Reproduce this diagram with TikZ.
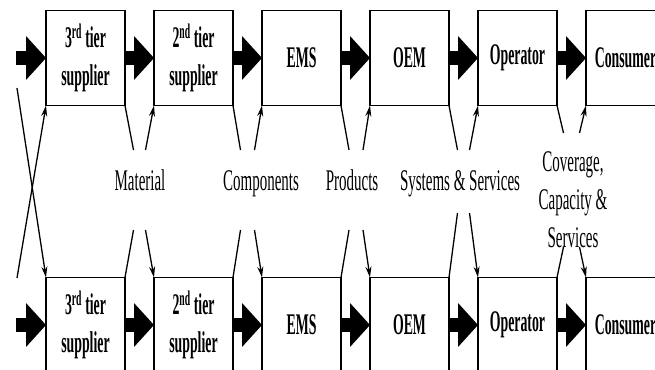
\documentclass[tikz,border=0pt]{standalone}
\usepackage{graphicx}
\usepackage{fontspec}
\setmainfont{Liberation Serif}
\usetikzlibrary{positioning}
\usetikzlibrary{arrows.meta}

\newcommand{\cnd}[1]{\scalebox{0.5}[1]{#1}}
\newcommand{\cbx}[1]{\scalebox{0.46}[1]{#1}}

\begin{document}
\begin{tikzpicture}
          [x=1pt, y=-1pt, node distance=29pt,
           box/.style={draw, line width=1.6pt, minimum width=79pt, minimum height=95pt,
                       inner sep=0pt, outer sep=0pt, align=center,
                       font=\fontsize{30}{38}\selectfont\bfseries},
           lbl/.style={align=center, inner sep=0pt, font=\fontsize{30}{38}\selectfont},
           edge/.style={line width=1.3pt},
           flow/.style={line width=1.3pt, -{Stealth[length=11pt,width=6pt]}},
           bigarr/.style={line width=14pt, -{Triangle[length=20pt,width=44pt,line width=0pt]}}]
          \useasboundingbox (0,0) rectangle (655,369);

          % upper chain
          \node (s3) [box] at (85.5,58) {\cbx{3\textsuperscript{rd} tier}\\\cbx{supplier}};
          \node (s2) [box, right = of s3] {\cbx{2\textsuperscript{nd} tier}\\\cbx{supplier}};
          \node (ems) [box, right = of s2] {\cbx{EMS}};
          \node (oem) [box, right = of ems] {\cbx{OEM}};
          \node (op) [box, right = of oem] {\cbx{Operator}};
          \node (con) [box, right = of op] {\cbx{Consumer}};

          % lower chain
          \node (s3') [box, below = 172pt of s3] {\cbx{3\textsuperscript{rd} tier}\\\cbx{supplier}};
          \node (s2') [box, right = of s3'] {\cbx{2\textsuperscript{nd} tier}\\\cbx{supplier}};
          \node (ems') [box, right = of s2'] {\cbx{EMS}};
          \node (oem') [box, right = of ems'] {\cbx{OEM}};
          \node (op') [box, right = of oem'] {\cbx{Operator}};
          \node (con') [box, right = of op'] {\cbx{Consumer}};

          % what passes between the tiers
          \node (mat) [lbl, anchor=base] at (140,190) {\cnd{Material}};
          \node (comp) [lbl, anchor=base] at (261,190) {\cnd{Components}};
          \node (prod) [lbl, anchor=base] at (352,190) {\cnd{Products}};
          \node (sys) [lbl, anchor=base] at (460,190) {\cnd{Systems \& Services}};
          \node (cov) [lbl] at (573,200) {\cnd{Coverage,}\\\cnd{Capacity \&}\\\cnd{Services}};

          \coordinate (u1) at (139.5,150);
          \coordinate (d1) at (139.5,230);
          \coordinate (u2) at (247.5,150);
          \coordinate (d2) at (247.5,230);
          \coordinate (u3) at (356,150);
          \coordinate (d3) at (356,230);
          \coordinate (u4) at (463.5,150);
          \coordinate (d4) at (463.5,213);
          \coordinate (u5) at (571.5,133);
          \coordinate (d5) at (571.5,247);
          \coordinate (xu) at (17,88);
          \coordinate (xd) at (17,278);
          \coordinate (in) at (16,58);
          \coordinate (in') at (16,325);

          \draw[bigarr] (in) -- (s3.west);
          \draw[bigarr] (s3.east) -- (s2.west);
          \draw[bigarr] (s2.east) -- (ems.west);
          \draw[bigarr] (ems.east) -- (oem.west);
          \draw[bigarr] (oem.east) -- (op.west);
          \draw[bigarr] (op.east) -- (con.west);

          \draw[bigarr] (in') -- (s3'.west);
          \draw[bigarr] (s3'.east) -- (s2'.west);
          \draw[bigarr] (s2'.east) -- (ems'.west);
          \draw[bigarr] (ems'.east) -- (oem'.west);
          \draw[bigarr] (oem'.east) -- (op'.west);
          \draw[bigarr] (op'.east) -- (con'.west);

          \draw[flow] (xu) -- (s3'.north west);
          \draw[flow] (xd) -- (s3.south west);

          \draw[edge] (s3.south east) -- ([xshift=-6pt]u1);
          \draw[flow] ([xshift=6pt]u1) -- (s2.south west);
          \draw[edge] (s3'.north east) -- ([xshift=-6pt]d1);
          \draw[flow] ([xshift=6pt]d1) -- (s2'.north west);

          \draw[edge] (s2.south east) -- ([xshift=-7pt]u2);
          \draw[flow] ([xshift=7pt]u2) -- (ems.south west);
          \draw[edge] (s2'.north east) -- ([xshift=-7pt]d2);
          \draw[flow] ([xshift=7pt]d2) -- (ems'.north west);

          \draw[edge] (ems.south east) -- ([xshift=-7pt]u3);
          \draw[flow] ([xshift=7pt]u3) -- (oem.south west);
          \draw[edge] (ems'.north east) -- ([xshift=-7pt]d3);
          \draw[flow] ([xshift=7pt]d3) -- (oem'.north west);

          \draw[edge] (oem.south east) -- ([xshift=-6pt]u4);
          \draw[flow] ([xshift=6pt]u4) -- (op.south west);
          \draw[edge] (oem'.north east) -- ([xshift=-6pt]d4);
          \draw[flow] ([xshift=6pt]d4) -- (op'.north west);

          \draw[edge] (op.south east) -- ([xshift=-8pt]u5);
          \draw[flow] ([xshift=8pt]u5) -- (con.south west);
          \draw[edge] (op'.north east) -- ([xshift=-8pt]d5);
          \draw[flow] ([xshift=8pt]d5) -- (con'.north west);
        \end{tikzpicture}
\end{document}
